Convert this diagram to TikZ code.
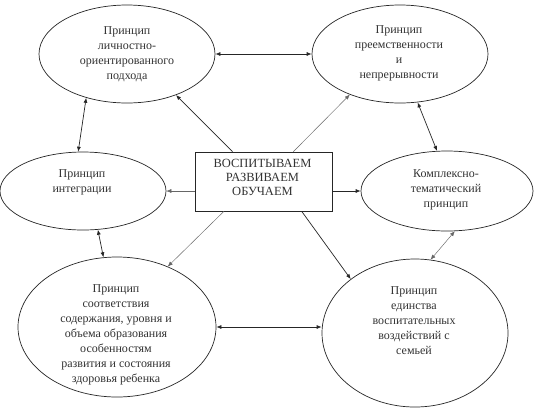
\documentclass[tikz,border=0pt]{standalone}
\usepackage{fontspec}
\setmainfont{Liberation Serif}
\usetikzlibrary{shapes.geometric,arrows.meta}
\begin{document}
\begin{tikzpicture}[x=1pt,y=-1pt,
  ell/.style={draw=black!85, line width=0.7pt, ellipse, inner sep=0pt},
  txt/.style={align=center, font=\fontsize{12}{15}\selectfont, text=black!80, inner sep=0pt},
  ctr/.style={draw=black!85, line width=0.7pt, rectangle, inner sep=0pt, minimum width=137pt, minimum height=59pt},
  con/.style={line width=0.7pt, draw=black!85, -{Latex[length=5pt,width=4pt]}},
  conl/.style={line width=0.45pt, draw=black!60, -{Latex[length=5pt,width=4pt]}},
  bi/.style={{Latex[length=5pt,width=4pt]}-{Latex[length=5pt,width=4pt]}},
]
\useasboundingbox (0,0) rectangle (534,416);
\fill[white] (0,0) rectangle (534,416);

\node[ell, minimum width=176pt, minimum height=98pt] (e1) at (127,54) {};
\node[ell, minimum width=176pt, minimum height=98pt] (e2) at (400,54) {};
\node[ell, minimum width=166pt, minimum height=78pt] (e3) at (83,191) {};
\node[ell, minimum width=172pt, minimum height=80pt] (e4) at (447,191) {};
\node[ell, minimum width=198pt, minimum height=140pt] (e5) at (117,327) {};
\node[ell, minimum width=186pt, minimum height=148pt] (e6) at (415,333) {};
\node[ctr] (box) at (263.5,181.5) {};

\node[txt] (t1) at (127,54) {Принцип\\личностно-\\ориентированного\\подхода};
\node[txt] (t2) at (399,53) {Принцип\\преемственности\\и\\непрерывности};
\node[txt] (t3) at (82,182) {Принцип\\интеграции};
\node[txt] (t4) at (446,190) {Комплексно-\\тематический\\принцип};
\node[txt] (t5) at (116,335) {Принцип\\соответствия\\содержания, уровня и\\объема образования\\особенностям\\развития и состояния\\здоровья ребенка};
\node[txt] (t6) at (414,321) {Принцип\\единства\\воспитательных\\воздействий с\\семьей};
\node[txt, font=\fontsize{12.5}{14}\selectfont] (tb) at (262.5,177) {ВОСПИТЫВАЕМ\\РАЗВИВАЕМ\\ОБУЧАЕМ};

\draw[con] (box.136) -- (e1.-40);
\draw[conl] (box.45) -- (e2.219);
\draw[conl] (box.west |- e3.east) -- (e3.east);
\draw[con] (box.east |- e4.west) -- (e4.west);
\draw[conl] (box.217) -- (e5.50);
\draw[con] (box.-38) -- (e6.140);
\draw[con, bi] (e1.east) -- (e2.west);
\draw[con, bi] (e1.-133) -- (e3.97);
\draw[con, bi] (e2.-70) -- (e4.104);
\draw[con, bi] (e3.-69) -- (e5.101);
\draw[conl, bi] (e4.-79) -- (e6.78);
\draw[con, bi] (e5.east) -- (e5.east -| e6.west);
\end{tikzpicture}
\end{document}
